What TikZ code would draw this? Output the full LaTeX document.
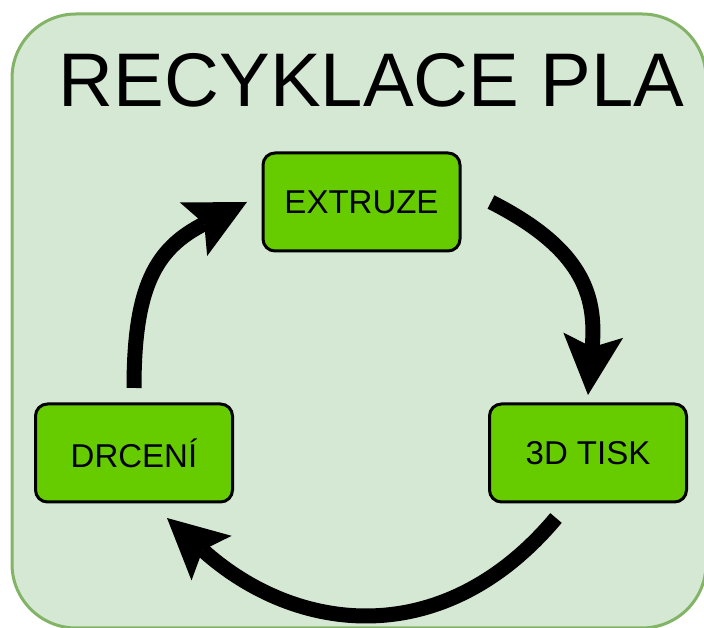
\documentclass[tikz,border=0pt]{standalone}
\usepackage{fontspec}
\setmainfont{Liberation Sans}
\usetikzlibrary{arrows.meta}
\definecolor{bgfill}{HTML}{D5E8D4}
\definecolor{bgline}{HTML}{82B366}
\definecolor{boxfill}{HTML}{66CC00}
\begin{document}
\begin{tikzpicture}[x=1pt, y=1pt,
    box/.style={draw, line width=3pt, fill=boxfill, rounded corners=12pt,
        minimum width=197pt, minimum height=98pt, outer sep=0pt,
        font=\fontsize{33}{40}\selectfont},
    flow/.style={line width=15pt,
        -{Stealth[length=60pt, width=60pt, inset=12pt, line width=0pt]}}]
    \useasboundingbox (0,0) rectangle (704,628);
    \draw[bgline, fill=bgfill, line width=3pt, rounded corners=64pt] (12,0) rectangle (706,614);

    \node[anchor=base, font=\fontsize{76}{90}\selectfont] (title) at (371.5,521) {RECYKLACE PLA};

    \node[box] (ext) at (361.5,426) {EXTRUZE};
    \node[box] (tis) at (588,175) {3D TISK};
    \node[box] (drc) at (134,175) {DRCENÍ};

    \draw[flow] ([yshift=16pt]drc.north) to[out=90, in=207, looseness=1.2] ([xshift=-16pt]ext.west);
    \draw[flow] ([xshift=31pt]ext.east) to[out=-27, in=85, looseness=1.2] ([yshift=9pt]tis.north);
    \draw[flow] ([xshift=-32pt, yshift=-16pt]tis.south) to[out=230, in=318, looseness=1.15] ([xshift=33pt, yshift=-16pt]drc.south);
\end{tikzpicture}
\end{document}
